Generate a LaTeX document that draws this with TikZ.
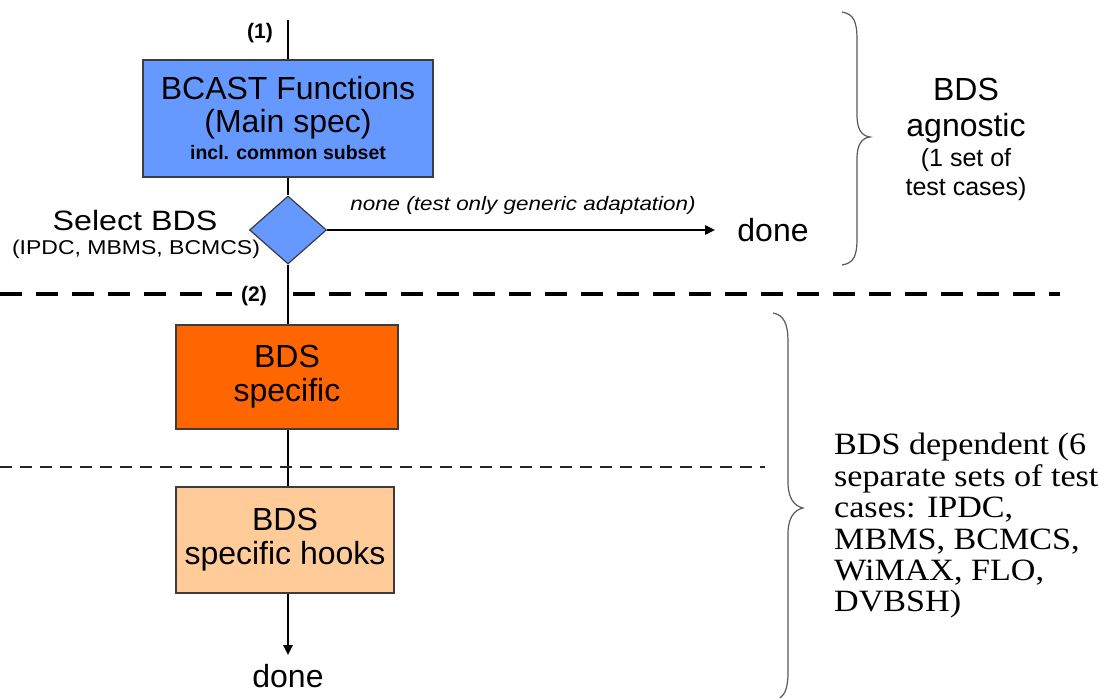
\documentclass[tikz,border=0pt]{standalone}
\usepackage{fontspec}
\setmainfont{Liberation Sans}
\newfontfamily\tms[FakeStretch=1.1]{Liberation Serif}
\newfontfamily\sanswide[FakeStretch=1.15]{Liberation Sans}
\usetikzlibrary{shapes.geometric,arrows.meta}
\definecolor{bblue}{RGB}{102,153,255}
\definecolor{borange}{RGB}{255,102,0}
\definecolor{bpeach}{RGB}{255,204,153}
\definecolor{bframe}{RGB}{60,60,60}
\begin{document}
\begin{tikzpicture}[x=1pt,y=-1pt,
  boxstyle/.style={draw=bframe,line width=1.2pt,rectangle,align=center,inner sep=0pt},
  flow/.style={line width=2.4pt,black},
  brace/.style={draw=black!65,line width=1.2pt},
  txt/.style={inner sep=0pt,align=center}]
\useasboundingbox (0,0) rectangle (1099,698);
% boxes
\node[boxstyle,fill=bblue,minimum width=290,minimum height=117,
  font=\fontsize{32}{33}\selectfont] (bcast) at (288,118.5)
  {BCAST Functions\\(Main spec)\\[-6pt]{\fontsize{19.5}{20}\selectfont\bfseries incl. common subset}};
\node[diamond,draw=bframe,line width=1.2pt,fill=bblue,minimum width=77,minimum height=68,inner sep=0pt] (dia) at (288,230) {};
\node[boxstyle,fill=borange,minimum width=222,minimum height=104,
  font=\fontsize{32}{34}\selectfont] (spec) at (287,377) {BDS\\specific};
\node[boxstyle,fill=bpeach,minimum width=218,minimum height=106,
  font=\fontsize{32}{34}\selectfont] (hooks) at (285,540) {BDS\\specific hooks};
% texts
\node[txt,font=\bfseries\fontsize{21}{24}\selectfont] (l1) at (260,33) {(1)};
\node[txt,font=\bfseries\fontsize{21}{24}\selectfont] (l2) at (254,296) {(2)};
\node[txt,font=\sanswide\fontsize{28}{30}\selectfont] (sel) at (135,220) {Select BDS};
\node[txt,font=\sanswide\fontsize{20}{22}\selectfont] (selsub) at (136,249) {(IPDC, MBMS, BCMCS)};
\node[txt,font=\sanswide\itshape\fontsize{19.5}{22}\selectfont] (none) at (523,205) {none (test only generic adaptation)};
\node[txt,font=\fontsize{32}{34}\selectfont] (done1) at (773,230) {done};
\node[txt,font=\fontsize{32}{34}\selectfont] (done2) at (288,676) {done};
\node[txt,font=\fontsize{32}{36}\selectfont] (agn) at (966,139)
  {BDS\\agnostic\\[-6pt]{\fontsize{25}{29}\selectfont (1 set of}\\[-7pt]{\fontsize{25}{29}\selectfont test cases)}};
\node[txt,anchor=west,align=left,font=\tms\fontsize{31}{31.4}\selectfont] (dep) at (834,526)
  {BDS dependent (6\\separate sets of test\\cases: IPDC,\\MBMS, BCMCS,\\WiMAX, FLO,\\DVBSH)};
% coordinates
\coordinate (top) at (288,20);
\coordinate (end1) at (715,230);
\coordinate (end2) at (288,655);
% flow lines
\draw[flow] (top) -- (bcast.north);
\draw[flow] (bcast.south) -- (dia.north);
\draw[flow] (dia.south) -- (spec.north -| dia.south);
\draw[flow] (spec.south -| dia.south) -- (hooks.north -| dia.south);
\draw[flow,-{Triangle[length=10pt,width=9pt]}] (dia.east) -- (end1);
\draw[flow,-{Triangle[length=10pt,width=9pt]}] (hooks.south -| end2) -- (end2);
% separators
\draw[line width=4pt,dash pattern=on 22pt off 14pt] (0,294) -- (232,294);
\draw[line width=4pt,dash pattern=on 22pt off 14pt] (293,294) -- (1060,294);
\draw[line width=2pt,dash pattern=on 12pt off 8pt,black!85] (0,467) -- (765,467);
% braces
\draw[brace] (842,12) .. controls (854,14) and (857,22) .. (857,40) -- (857,115)
  .. controls (857,130) and (862,136) .. (870,137)
  .. controls (862,138) and (857,144) .. (857,159) -- (857,238)
  .. controls (857,256) and (854,263) .. (842,265);
\draw[brace] (773,313) .. controls (784,315) and (788,324) .. (788,342) -- (788,482)
  .. controls (788,498) and (794,506) .. (803,508)
  .. controls (794,510) and (788,518) .. (788,534) -- (788,672)
  .. controls (788,688) and (785,694) .. (780,698);
\end{tikzpicture}
\end{document}
